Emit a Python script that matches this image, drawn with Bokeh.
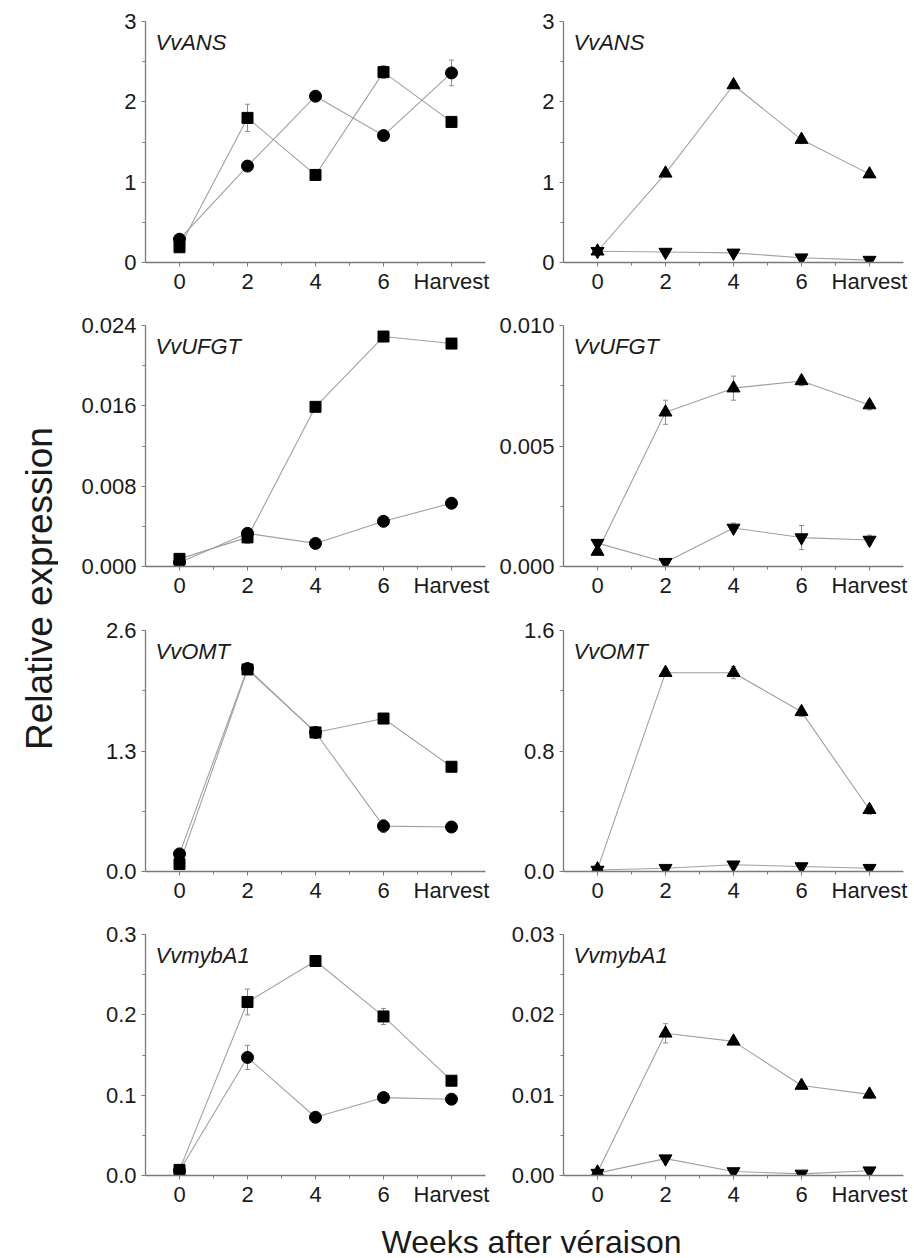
import numpy as np
from bokeh.plotting import figure
from bokeh.models import (FixedTicker, Label, Whisker, ColumnDataSource, Range1d,
                          TeeHead, PrintfTickFormatter)
from bokeh.layouts import row, column
from bokeh.embed import file_html
from bokeh.resources import INLINE

# ---------------- data ----------------
weeks = [0, 2, 4, 6, 8]
week_labels = ["0", "2", "4", "6", "Harvest"]
genes = ["VvANS", "VvUFGT", "VvOMT", "VvmybA1"]

# left column (squares / circles)
ans_sq = [0.19, 1.80, 1.09, 2.37, 1.75]
ans_sq_err = [0.02, 0.17, 0.03, 0.08, 0.05]
ans_ci = [0.29, 1.20, 2.07, 1.58, 2.36]
ans_ci_err = [0.02, 0.03, 0.03, 0.03, 0.16]

ufgt_sq = [0.00076, 0.0029, 0.0159, 0.0229, 0.0222]
ufgt_sq_err = [0.0001, 0.0006, 0.0002, 0.0002, 0.0003]
ufgt_ci = [0.0004, 0.0033, 0.0023, 0.0045, 0.0063]
ufgt_ci_err = [0.0001, 0.0002, 0.0001, 0.0002, 0.0002]

omt_sq = [0.08, 2.18, 1.50, 1.65, 1.13]
omt_sq_err = [0.01, 0.03, 0.03, 0.03, 0.02]
omt_ci = [0.19, 2.19, 1.50, 0.49, 0.48]
omt_ci_err = [0.02, 0.03, 0.03, 0.07, 0.02]

myb_sq = [0.007, 0.216, 0.267, 0.198, 0.118]
myb_sq_err = [0.002, 0.016, 0.004, 0.010, 0.003]
myb_ci = [0.006, 0.147, 0.0725, 0.097, 0.095]
myb_ci_err = [0.001, 0.015, 0.003, 0.003, 0.003]

# right column (up / down triangles)
ans_up = [0.14, 1.11, 2.21, 1.53, 1.10]
ans_up_err = [0.02, 0.04, 0.04, 0.05, 0.04]
ans_dn = [0.14, 0.13, 0.12, 0.06, 0.03]
ans_dn_err = [0.01, 0.01, 0.01, 0.01, 0.01]

ufgt_up = [0.00062, 0.0064, 0.0074, 0.0077, 0.0067]
ufgt_up_err = [0.0001, 0.0005, 0.0005, 0.0002, 0.0002]
ufgt_dn = [0.00097, 0.00018, 0.0016, 0.0012, 0.0011]
ufgt_dn_err = [0.0001, 0.0001, 0.0002, 0.0005, 0.0002]

omt_up = [0.016, 1.32, 1.32, 1.06, 0.41]
omt_up_err = [0.005, 0.02, 0.04, 0.03, 0.03]
omt_dn = [0.01, 0.022, 0.045, 0.033, 0.022]
omt_dn_err = [0.003, 0.003, 0.003, 0.003, 0.003]

myb_up = [0.0004, 0.0177, 0.0167, 0.0112, 0.0101]
myb_up_err = [0.0001, 0.0012, 0.0004, 0.0004, 0.0005]
myb_dn = [0.0003, 0.0021, 0.0005, 0.0002, 0.0006]
myb_dn_err = [0.0001, 0.0001, 0.0001, 0.0001, 0.0001]

# y axes: (max, major ticks, minor ticks, decimals)
left_axes = [
    (3.0, [0, 1, 2, 3], [0.5, 1.5, 2.5], 0),
    (0.024, [0, 0.008, 0.016, 0.024], [0.004, 0.012, 0.020], 3),
    (2.6, [0, 1.3, 2.6], [0.65, 1.95], 1),
    (0.3, [0, 0.1, 0.2, 0.3], [0.05, 0.15, 0.25], 1),
]
right_axes = [
    (3.0, [0, 1, 2, 3], [0.5, 1.5, 2.5], 0),
    (0.010, [0, 0.005, 0.010], [0.0025, 0.0075], 3),
    (1.6, [0, 0.8, 1.6], [0.4, 1.2], 1),
    (0.03, [0, 0.01, 0.02, 0.03], [0.005, 0.015, 0.025], 2),
]
left_series = [
    ((ans_sq, ans_sq_err), (ans_ci, ans_ci_err)),
    ((ufgt_sq, ufgt_sq_err), (ufgt_ci, ufgt_ci_err)),
    ((omt_sq, omt_sq_err), (omt_ci, omt_ci_err)),
    ((myb_sq, myb_sq_err), (myb_ci, myb_ci_err)),
]
right_series = [
    ((ans_up, ans_up_err), (ans_dn, ans_dn_err)),
    ((ufgt_up, ufgt_up_err), (ufgt_dn, ufgt_dn_err)),
    ((omt_up, omt_up_err), (omt_dn, omt_dn_err)),
    ((myb_up, myb_up_err), (myb_dn, myb_dn_err)),
]

# ---------------- styling ----------------
FONT = "Liberation Sans"
TICK_SIZE = "22px"
AXIS_COLOR = "#7a7a7a"
LINE_COLOR = "#a0a0a0"
ERR_COLOR = "#8c8c8c"
FRAME_W, FRAME_H = 340, 241
YLAB_W = 58


def make_panel(gene, axis_spec, series, markers, left_border, top_border, bottom_border):
    ymax, majors, minors, dec = axis_spec
    p = figure(frame_width=FRAME_W, frame_height=FRAME_H,
               x_range=Range1d(-1, 9), y_range=Range1d(0, ymax),
               toolbar_location=None, output_backend="svg",
               min_border_left=left_border, min_border_right=8,
               min_border_top=top_border, min_border_bottom=bottom_border,
               outline_line_color=None, background_fill_color="white")
    p.grid.visible = False

    # x axis
    xa = p.xaxis[0]
    xa.ticker = FixedTicker(ticks=weeks, minor_ticks=[1, 3, 5, 7])
    xa.major_label_overrides = {w: lab for w, lab in zip(weeks, week_labels)}
    xa.major_label_standoff = 2
    # y axis
    ya = p.yaxis[0]
    ya.ticker = FixedTicker(ticks=majors, minor_ticks=minors)
    ya.formatter = PrintfTickFormatter(format="%." + str(dec) + "f")
    ya.major_label_standoff = 5
    for ax in (xa, ya):
        ax.axis_line_color = AXIS_COLOR
        ax.axis_line_width = 1.3
        ax.major_tick_line_color = AXIS_COLOR
        ax.minor_tick_line_color = AXIS_COLOR
        ax.major_tick_out = 4
        ax.major_tick_in = 0
        ax.minor_tick_out = 3
        ax.minor_tick_in = 0
        ax.major_label_text_font = FONT
        ax.major_label_text_font_size = TICK_SIZE
        ax.major_label_text_color = "#1a1a1a"

    for (vals, errs), marker in zip(series, markers):
        src = ColumnDataSource(dict(
            x=weeks, y=vals,
            upper=[v + e for v, e in zip(vals, errs)],
            lower=[v - e for v, e in zip(vals, errs)]))
        p.line("x", "y", source=src, line_color=LINE_COLOR, line_width=1.1)
        p.add_layout(Whisker(source=src, base="x", upper="upper", lower="lower",
                             line_color=ERR_COLOR, line_width=1,
                             upper_head=TeeHead(size=5, line_color=ERR_COLOR, line_width=1),
                             lower_head=TeeHead(size=5, line_color=ERR_COLOR, line_width=1)))
    for (vals, errs), marker in zip(series, markers):
        size = {"square": 11, "circle": 12}.get(marker, 13)
        p.scatter(weeks, vals, marker=marker, size=size,
                  fill_color="black", line_color="black")

    p.add_layout(Label(x=-1 + 10 / 34.0, y=ymax * (1 - 21.0 / FRAME_H), text=gene,
                       text_font=FONT, text_font_size="22px",
                       text_font_style="italic", text_color="#1a1a1a",
                       text_baseline="alphabetic"))
    return p


tops = [21, 13, 13, 13]
bottoms = [50, 51, 50, 32]
rows = []
for i, gene in enumerate(genes):
    pl = make_panel(gene, left_axes[i], left_series[i], ["square", "circle"],
                    87, tops[i], bottoms[i])
    pr = make_panel(gene, right_axes[i], right_series[i],
                    ["triangle", "inverted_triangle"], 70, tops[i], bottoms[i])
    rows.append(row(pl, pr))
grid = column(*rows)

grid_h = sum(t + FRAME_H + b for t, b in zip(tops, bottoms))

ylab = figure(width=YLAB_W, height=grid_h, x_range=Range1d(0, YLAB_W),
              y_range=Range1d(0, grid_h),
              min_border=0, toolbar_location=None, output_backend="svg",
              x_axis_type=None, y_axis_type=None, outline_line_color=None)
ylab.grid.visible = False
ylab.add_layout(Label(x=39, y=grid_h - 588, text="Relative expression", angle=np.pi / 2,
                      text_align="center", text_baseline="alphabetic",
                      text_font=FONT, text_font_size="37px", text_color="#1a1a1a"))

total_w = YLAB_W + (87 + FRAME_W + 8) + (70 + FRAME_W + 8)
XLAB_H = 1258 - grid_h
xlab = figure(width=total_w, height=XLAB_H, x_range=Range1d(0, total_w),
              y_range=Range1d(0, XLAB_H),
              min_border=0, toolbar_location=None, output_backend="svg",
              x_axis_type=None, y_axis_type=None, outline_line_color=None)
xlab.grid.visible = False
xlab.add_layout(Label(x=531, y=XLAB_H - (1239 - grid_h), text="Weeks after véraison",
                      text_align="center", text_baseline="middle",
                      text_font=FONT, text_font_size="32px", text_color="#1a1a1a"))

layout = column(row(ylab, grid), xlab)

open("out.html", "w").write(file_html(layout, INLINE))
